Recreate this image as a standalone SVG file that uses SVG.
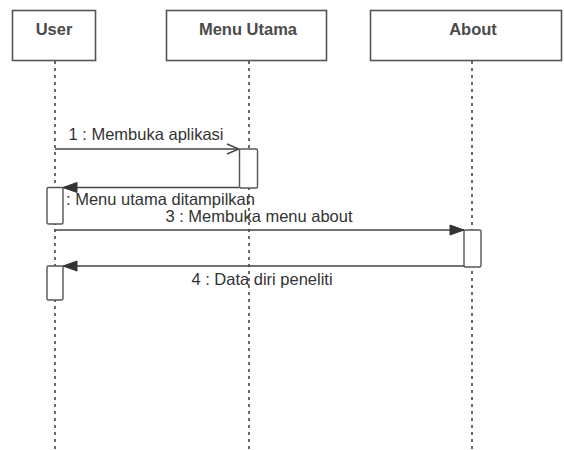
<svg xmlns="http://www.w3.org/2000/svg" width="564" height="450" viewBox="0 0 564 450">
<style>
.obj{fill:#fff;stroke:#555;stroke-width:1.6}
.title{font-family:"Liberation Sans",Arial,sans-serif;font-size:16.5px;font-weight:bold;fill:#4a4a4a;text-anchor:middle}
.life{stroke:#444;stroke-width:1.6;stroke-dasharray:3 4;fill:none}
.act{fill:#fff;stroke:#555;stroke-width:1.4}
.msg{stroke:#444;stroke-width:1.5;fill:none}
.lbl{font-family:"Liberation Sans",Arial,sans-serif;font-size:16.5px;fill:#333;text-anchor:middle}
</style>
<defs>
<marker id="open" markerWidth="14" markerHeight="12" refX="13" refY="6" orient="auto" markerUnits="userSpaceOnUse">
<path d="M1,1 L13,6 L1,11" fill="none" stroke="#444" stroke-width="1.4"/>
</marker>
<marker id="fill" markerWidth="16" markerHeight="12" refX="15" refY="6" orient="auto" markerUnits="userSpaceOnUse">
<path d="M1,1 L15,6 L1,11 Z" fill="#333" stroke="#333" stroke-width="1"/>
</marker>
</defs>
<rect width="564" height="450" fill="#fff"/>
<g id="user">
<rect class="obj" x="12.5" y="10.5" width="83" height="50"/>
<text class="title" x="54" y="34.5">User</text>
<line class="life" x1="55" y1="61" x2="55" y2="450"/>
</g>
<g id="menu-utama">
<rect class="obj" x="166.5" y="10.5" width="160" height="50"/>
<text class="title" x="248" y="34.5">Menu Utama</text>
<line class="life" x1="249" y1="61" x2="249" y2="450"/>
</g>
<g id="about">
<rect class="obj" x="370.5" y="10.5" width="191" height="50"/>
<text class="title" x="473" y="34.5">About</text>
<line class="life" x1="472" y1="61" x2="472" y2="450"/>
</g>
<g id="activations">
<rect class="act" x="239.5" y="149" width="18" height="39" rx="1.5"/>
<rect class="act" x="464" y="230" width="17" height="37" rx="1.5"/>
</g>
<g id="connectors">
<line class="msg" x1="55" y1="149" x2="239" y2="149" marker-end="url(#open)"/>
<text class="lbl" x="146" y="140">1 : Membuka aplikasi</text>
<line class="msg" x1="239" y1="187.5" x2="63" y2="187.5" marker-end="url(#fill)"/>
<text class="lbl" x="66" y="205" style="text-anchor:start">: Menu utama ditampilkan</text>
<line class="msg" x1="55" y1="230" x2="464" y2="230" marker-end="url(#fill)"/>
<text class="lbl" x="259" y="222">3 : Membuka menu about</text>
<line class="msg" x1="464" y1="266" x2="63" y2="266" marker-end="url(#fill)"/>
<text class="lbl" x="262" y="285">4 : Data diri peneliti</text>
</g>
<g id="user-activations">
<rect class="act" x="47" y="187.5" width="16" height="36.5" rx="1.5"/>
<rect class="act" x="47" y="266" width="16" height="34" rx="1.5"/>
</g>
</svg>
